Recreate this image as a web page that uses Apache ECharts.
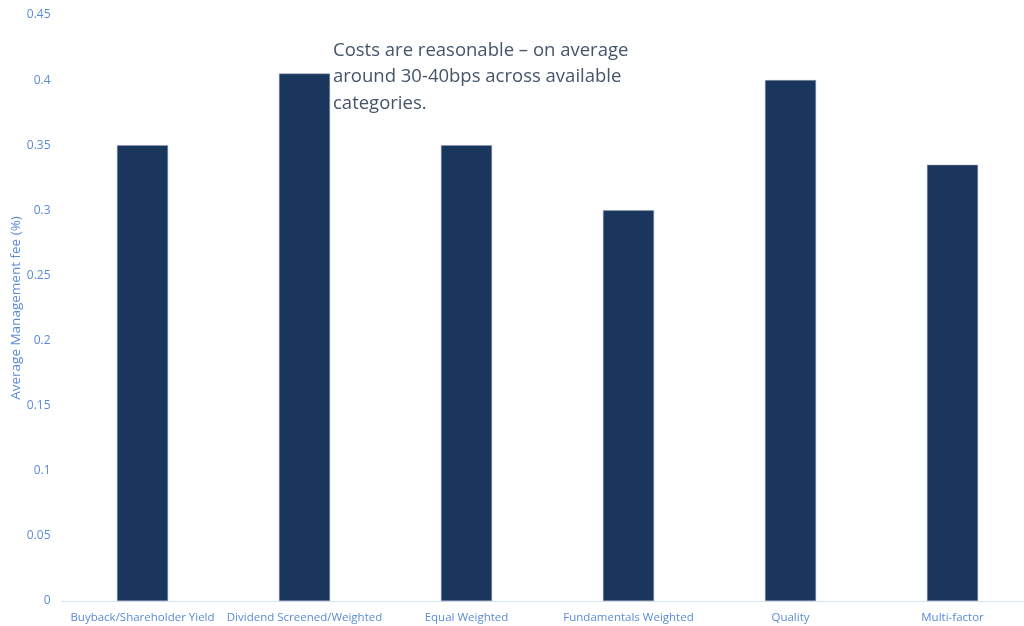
<!DOCTYPE html>
<html>
<head>
<meta charset="utf-8">
<script src="https://cdn.jsdelivr.net/npm/echarts@6/dist/echarts.min.js"></script>
<style>
html, body { margin: 0; padding: 0; background: #fff; }
#chart { width: 1024px; height: 626px; }
</style>
</head>
<body>
<div id="chart"></div>
<script>
// 数据
const categories = ['Buyback/Shareholder Yield', 'Dividend Screened/Weighted', 'Equal Weighted', 'Fundamentals Weighted', 'Quality', 'Multi-factor'];
const feeValues = [0.35, 0.405, 0.35, 0.30, 0.40, 0.335];
const noteLines = ['Costs are reasonable – on average', 'around 30-40bps across available', 'categories.'];

const chart = echarts.init(document.getElementById('chart'));

const labelBlue = '#5b8bd6';

const option = {
    animation: false,
    textStyle: { fontFamily: 'Open Sans' },
    graphic: [{
        type: 'text',
        left: 333,
        top: 37,
        style: {
            text: noteLines.join('\n'),
            fill: '#44546a',
            font: '18.5px "Open Sans"',
            lineHeight: 26.5
        }
    }],
    grid: {
        top: 15,
        bottom: 25,
        left: 61.5,
        width: 972,
        outerBoundsMode: 'none',
        containLabel: false
    },
    xAxis: {
        type: 'category',
        data: categories,
        axisLine: { lineStyle: { color: '#d9e2f1', width: 1 } },
        axisTick: { show: false },
        axisLabel: {
            color: labelBlue,
            fontSize: 11.5,
            margin: 11,
            interval: 0
        }
    },
    yAxis: {
        type: 'value',
        min: 0,
        max: 0.45,
        interval: 0.05,
        name: 'Average Management fee (%)',
        nameLocation: 'middle',
        nameGap: 38,
        nameMoveOverlap: false,
        nameTextStyle: { color: labelBlue, fontSize: 13.5 },
        axisLine: { show: false },
        axisTick: { show: false },
        splitLine: { show: false },
        axisLabel: {
            color: labelBlue,
            fontSize: 12,
            margin: 11,
            formatter: function (v) {
                return String(parseFloat(v.toFixed(2)));
            }
        }
    },
    series: [{
        type: 'bar',
        data: feeValues,
        barWidth: 51,
        itemStyle: {
            color: '#1b365d',
            borderColor: '#8a9bb5',
            borderWidth: 0.5
        }
    }]
};

chart.setOption(option);
</script>
</body>
</html>
